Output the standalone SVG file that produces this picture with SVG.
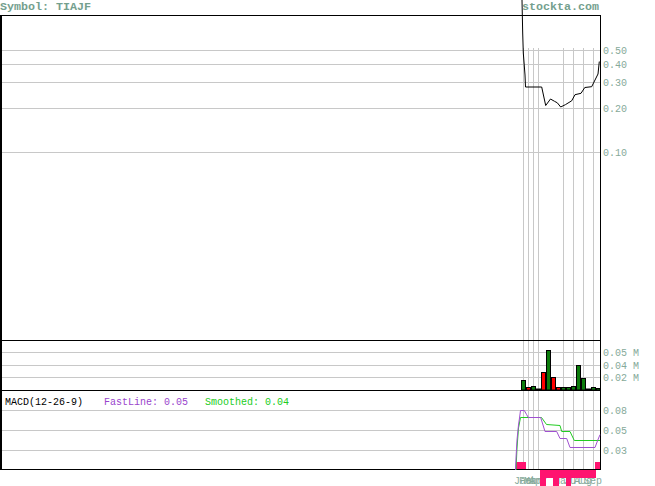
<svg xmlns="http://www.w3.org/2000/svg" width="655" height="486" viewBox="0 0 655 486">
<style>
.bg{fill:#ffffff}
.grid{stroke:#c8c8c8;stroke-width:1;fill:none}
.frame{stroke:#000000;stroke-width:1;fill:none}
.hdr{font-family:"Liberation Mono","DejaVu Sans Mono",monospace;font-size:11.67px;font-weight:bold;fill:#74a08e}
.ax{font-family:"Liberation Mono","DejaVu Sans Mono",monospace;font-size:10px;fill:#86aa9a}
.lbl{font-family:"Liberation Mono","DejaVu Sans Mono",monospace;font-size:10px}
.up{fill:#0c7c0c;stroke:#000000;stroke-width:1}
.dn{fill:#ff0000;stroke:#000000;stroke-width:1}
.hist{fill:#ff1470}
.fast{stroke:#a050d0;stroke-width:1;fill:none}
.slow{stroke:#22cc22;stroke-width:1;fill:none}
.price{stroke:#000000;stroke-width:1;fill:none}
</style>
<rect class="bg" x="0" y="0" width="655" height="486"/>

<g id="header">
<text class="hdr" x="0" y="10">Symbol: TIAJF</text>
</g>

<g id="grid">
<path class="grid" d="M0 50.5H600M0 64.5H600M0 82.5H600M0 108.5H600M0 152.5H600"/>
<path class="grid" d="M0 352.5H600M0 365.5H600M0 377.5H600"/>
<path class="grid" d="M0 410.5H600M0 430.5H600M0 450.5H600"/>
<path class="grid" d="M523.5 48V470M528.5 48V470M533.5 48V470M538.5 48V470M563.5 48V470M573.5 48V470M583.5 48V470M593.5 48V470"/>
</g>

<g id="x-labels">
<text class="ax" x="514" y="484">Jan</text>
<text class="ax" x="519" y="484">Feb</text>
<text class="ax" x="524" y="484">Mar</text>
<text class="ax" x="529" y="484">Apr</text>
<text class="ax" x="554" y="484">May</text>
<text class="ax" x="564" y="484">Jul</text>
<text class="ax" x="574" y="484">Aug</text>
<text class="ax" x="584" y="484">Sep</text>
</g>

<g id="macd-histogram">
<rect class="hist" x="516" y="462" width="10" height="8"/>
<rect class="hist" x="595" y="462" width="5" height="8"/>
<rect class="hist" x="540" y="470" width="56" height="8"/>
<rect class="hist" x="540" y="470" width="6" height="16"/>
<rect class="hist" x="553" y="470" width="6" height="16"/>
<rect class="hist" x="566" y="470" width="5" height="16"/>
</g>

<g id="frames">
<path class="frame" d="M0 15.5H600.5M0 340.5H600.5M0 390.5H600.5M0 469.5H600.5M600.5 15V470"/>
<path d="M1 15V470" stroke="#000000" stroke-width="2"/>
</g>

<g id="price-panel">
<polyline class="price" points="522,0 522.7,33 523.3,53 525,75 525.5,87 541.7,87 545.7,105.5 550.5,99 554.5,101.3 557.3,102.8 560.7,107 565.5,104.6 571.7,100.8 575,94.7 581,93.3 584.8,87.5 591.7,86.7 595.5,79 598,74 599.3,61.5"/>
<text class="hdr" x="522" y="10">stockta.com</text>
<text class="ax" x="603" y="54">0.50</text>
<text class="ax" x="603" y="68">0.40</text>
<text class="ax" x="603" y="86">0.30</text>
<text class="ax" x="603" y="112">0.20</text>
<text class="ax" x="603" y="156">0.10</text>
</g>

<g id="volume-panel">
<rect class="up" x="521.5" y="380.5" width="4" height="9.5"/>
<rect class="dn" x="526.5" y="387.5" width="4" height="2.5"/>
<rect class="up" x="531.5" y="386.5" width="4" height="3.5"/>
<rect class="up" x="536.5" y="389" width="4" height="1"/>
<rect class="dn" x="541.5" y="372.5" width="4" height="17.5"/>
<rect class="up" x="546.5" y="350.5" width="4" height="39.5"/>
<rect class="dn" x="551.5" y="377.5" width="4" height="12.5"/>
<rect class="dn" x="556.5" y="387.5" width="4" height="2.5"/>
<rect class="up" x="561.5" y="387.5" width="4" height="2.5"/>
<rect class="up" x="566.5" y="387.5" width="4" height="2.5"/>
<rect class="up" x="571.5" y="386.5" width="4" height="3.5"/>
<rect class="up" x="576.5" y="365.5" width="4" height="24.5"/>
<rect class="up" x="581.5" y="378.5" width="4" height="11.5"/>
<rect class="up" x="586.5" y="389" width="4" height="1"/>
<rect class="up" x="591.5" y="387.5" width="4" height="2.5"/>
<rect class="up" x="596.5" y="388.5" width="3.5" height="1.5"/>
<text class="ax" x="603" y="356">0.05 M</text>
<text class="ax" x="603" y="369">0.04 M</text>
<text class="ax" x="603" y="381">0.02 M</text>
</g>

<g id="macd-panel">
<text class="lbl" x="5" y="405" fill="#000000">MACD(12-26-9)</text>
<text class="lbl" x="104" y="405" fill="#9944cc">FastLine: 0.05</text>
<text class="lbl" x="205" y="405" fill="#22cc22">Smoothed: 0.04</text>
<polyline class="slow" points="516,470 517,448 518.5,428 520.5,417.5 541.5,417.5 546.5,424.5 560,425.5 561.7,431.5 570,431.5 574.3,440.5 600,440.5"/>
<polyline class="fast" points="515.5,470 516,458 517,440 518.5,425 519.5,418 520.5,410.5 524.3,410.5 526.7,414.7 528.3,417.5 540.7,417.5 545,431.5 556.7,431.5 560,438.5 566.7,438.5 570,447.5 595,447.5 597.7,440.3 600,434.7"/>
<text class="ax" x="603" y="414">0.08</text>
<text class="ax" x="603" y="434">0.05</text>
<text class="ax" x="603" y="454">0.03</text>
</g>
</svg>
